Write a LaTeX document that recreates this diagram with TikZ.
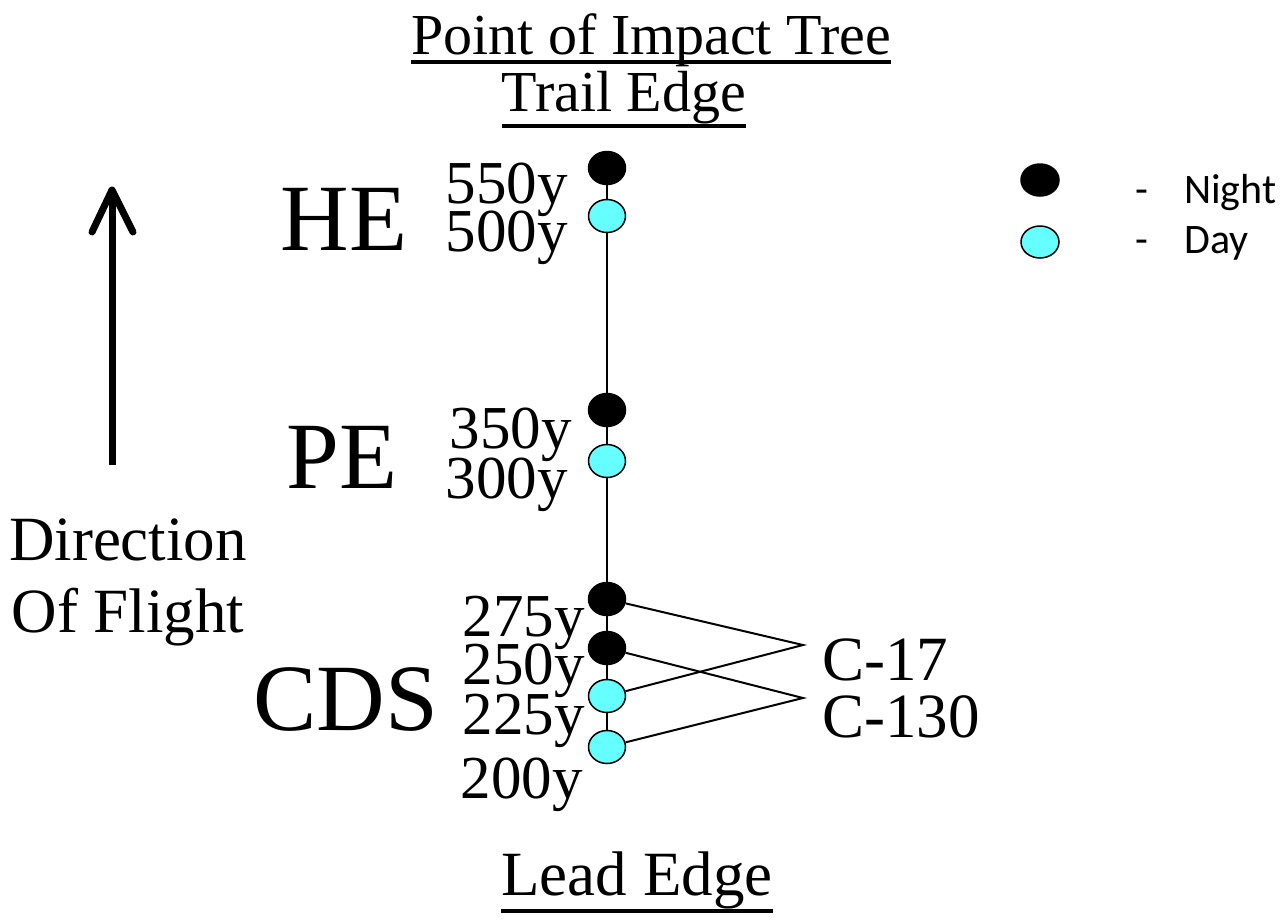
\documentclass[tikz,border=0pt]{standalone}
\usepackage{fontspec}
\setmainfont{Liberation Serif}
\newfontfamily\legfont{Carlito}
\usetikzlibrary{shapes.geometric}
\definecolor{daycyan}{RGB}{102,255,255}
\begin{document}
\begin{tikzpicture}[x=1pt,y=-1pt,
  night/.style={ellipse, fill=black, draw=black, line width=1.5pt, minimum width=37pt, minimum height=33pt, inner sep=0pt},
  day/.style={night, fill=daycyan},
  lbl/.style={inner sep=0pt, anchor=base east, font=\fontsize{61}{61}\selectfont},
  big/.style={inner sep=0pt, anchor=base, font=\fontsize{95}{95}\selectfont},
  ttl/.style={inner sep=0pt, anchor=base, font=\fontsize{58}{58}\selectfont},
  side/.style={inner sep=0pt, font=\fontsize{63}{63}\selectfont},
  leg/.style={inner sep=0pt, font=\legfont\fontsize{42}{42}\selectfont},
  conn/.style={line width=2pt},
  uline/.style={line width=3.5pt}
]
\useasboundingbox (0,0) rectangle (1280,922);

% titles
\node[ttl] (t1) at (651,54) {Point of Impact Tree};
\node[ttl] (t2) at (624,111) {Trail Edge};
\node[ttl, font=\fontsize{63}{63}\selectfont] (t3) at (637,895) {Lead Edge};
\draw[uline] ([yshift=-8pt]t1.base west) -- ([yshift=-8pt]t1.base east);
\draw[uline] ([yshift=-15pt]t2.base west) -- ([yshift=-15pt]t2.base east);
\draw[uline] ([yshift=-16pt]t3.base west) -- ([yshift=-16pt]t3.base east);

% group names
\node[big] (he) at (344,250) {HE};
\node[big] (pe) at (342,488) {PE};
\node[big] (cds) at (346,730) {CDS};

% distance labels
\node[lbl] (l550) at (568,203) {550y};
\node[lbl] (l500) at (568,251) {500y};
\node[lbl] (l350) at (572,448) {350y};
\node[lbl] (l300) at (568,498) {300y};
\node[lbl] (l275) at (585,636) {275y};
\node[lbl] (l250) at (585,684) {250y};
\node[lbl] (l225) at (585,734) {225y};
\node[lbl] (l200) at (583,798) {200y};

% points
\node[night] (n550) at (607,168) {};
\node[day]   (d500) at (607,216) {};
\node[night] (n350) at (607,410) {};
\node[day]   (d300) at (607,461) {};
\node[night] (n275) at (607,599) {};
\node[night] (n250) at (607,648) {};
\node[day]   (d225) at (607,696) {};
\node[day]   (d200) at (607,747) {};

\draw[conn] (n550) -- (d500) -- (n350) -- (d300) -- (n275) -- (n250) -- (d225) -- (d200);

% aircraft
\coordinate (c17) at (803,645);
\coordinate (c130) at (803,698);
\draw[conn] (n275) -- (c17) -- (d225);
\draw[conn] (n250) -- (c130) -- (d200);
\node[side, anchor=base west] (tc17) at (822,680) {C-17};
\node[side, anchor=base west] (tc130) at (822,737) {C-130};

% direction arrow
\coordinate (atip) at (112,190);
\coordinate (abot) at (112,465);
\draw[line width=7pt] (abot) -- ([yshift=-3pt]atip);
\draw[line width=7pt, line cap=round, line join=round] (92,232) -- (atip) -- (133,232);
\node[side, anchor=base] (dir1) at (128,560) {Direction};
\node[side, anchor=base] (dir2) at (128,632) {Of Flight};

% legend
\node[night, minimum width=38pt, minimum height=32pt] (kn) at (1040,180) {};
\node[day, minimum width=38pt, minimum height=32pt] (kd) at (1040,242) {};
\node[leg, anchor=base] (dash1) at (1142,203) {-};
\node[leg, anchor=base] (dash2) at (1142,253) {-};
\node[leg, anchor=base west] (kn2) at (1184,203) {Night};
\node[leg, anchor=base west] (kd2) at (1184,253) {Day};
\end{tikzpicture}
\end{document}
